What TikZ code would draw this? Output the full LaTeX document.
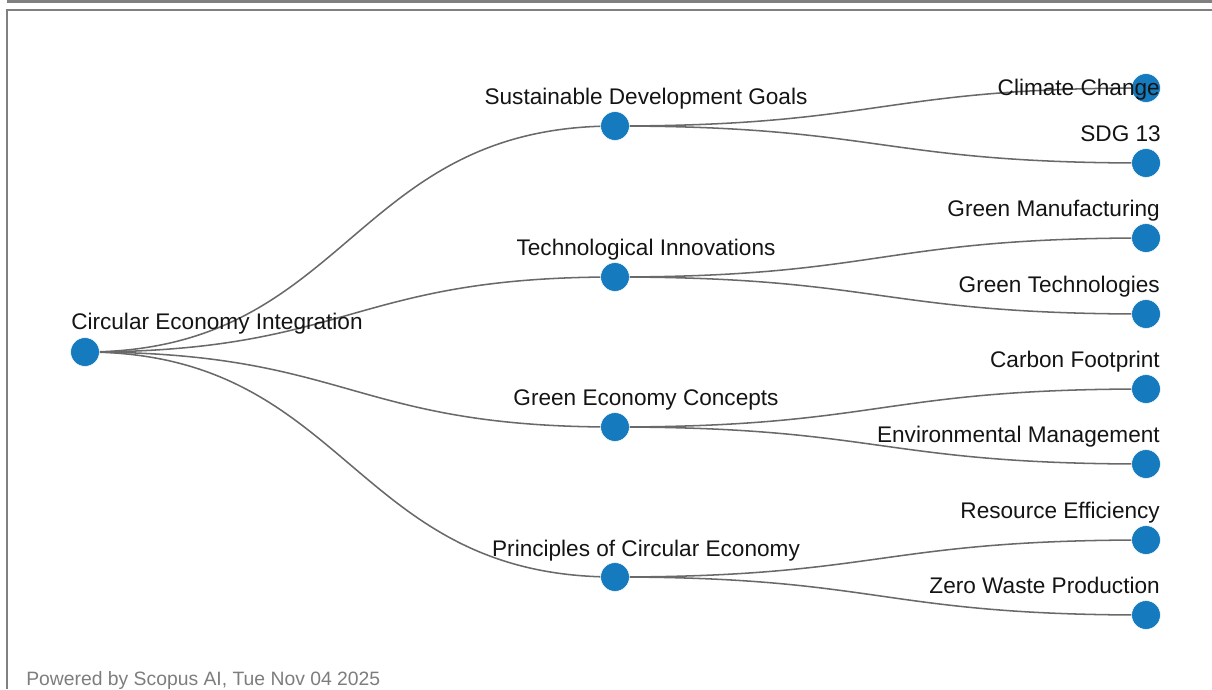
\documentclass[tikz,border=0pt]{standalone}
\usepackage{fontspec}
\setmainfont{Liberation Sans}
\usetikzlibrary{calc,backgrounds}

\definecolor{dotblue}{RGB}{22,123,190}
\definecolor{linkgray}{RGB}{105,105,105}
\definecolor{framegray}{RGB}{128,128,128}
\definecolor{footgray}{RGB}{125,125,125}
\definecolor{labelink}{RGB}{20,20,20}

\tikzset{
  dot/.style={circle, fill=dotblue, draw=white, line width=0.4pt, minimum size=21.6pt, inner sep=0pt},
  link/.style={draw=linkgray, line width=1.15pt},
  lbl/.style={font=\fontsize{16.95}{20}\selectfont, text=labelink, inner sep=0pt},
  frameline/.style={fill=framegray, draw=none},
}

% horizontal tree link: cubic curve with both controls at the mid abscissa
\newcommand\treelink[2]{%
  \draw[link] let \p1=(#1.center), \p2=(#2.center) in
    (\p1) .. controls ({(\x1+\x2)/2},\y1) and ({(\x1+\x2)/2},\y2) .. (\p2);}

\begin{document}
\begin{tikzpicture}[x=0.75pt, y=-0.75pt]
  \useasboundingbox (0,0) rectangle (1212,689);

  % panel frame
  \fill[frameline] (7,0) rectangle (1212,3.3);
  \fill[frameline] (6,9) rectangle (1212,11.2);
  \fill[frameline] (6,9) rectangle (8.2,689);

  % nodes
  \node[dot] (root) at (85,352) {};

  \node[dot] (sdg)  at (615,126) {};
  \node[dot] (tech) at (615,277) {};
  \node[dot] (gec)  at (615,427) {};
  \node[dot] (pce)  at (615,577) {};

  \node[dot] (cc)   at (1146,88)  {};
  \node[dot] (sdgt) at (1146,163) {};
  \node[dot] (gm)   at (1146,238) {};
  \node[dot] (gt)   at (1146,314) {};
  \node[dot] (cf)   at (1146,389) {};
  \node[dot] (em)   at (1146,464) {};
  \node[dot] (re)   at (1146,540) {};
  \node[dot] (zwp)  at (1146,615) {};

  % links, drawn beneath the dots
  \begin{pgfonlayer}{background}
    \treelink{root}{sdg}
    \treelink{root}{tech}
    \treelink{root}{gec}
    \treelink{root}{pce}
    \treelink{sdg}{cc}
    \treelink{sdg}{sdgt}
    \treelink{tech}{gm}
    \treelink{tech}{gt}
    \treelink{gec}{cf}
    \treelink{gec}{em}
    \treelink{pce}{re}
    \treelink{pce}{zwp}
  \end{pgfonlayer}

  % labels
  \node[lbl, anchor=base west] (lroot) at (71,329) {Circular Economy Integration};

  \node[lbl, anchor=base] (lsdg)  at (646,104) {Sustainable Development Goals};
  \node[lbl, anchor=base] (ltech) at (646,255) {Technological Innovations};
  \node[lbl, anchor=base] (lgec)  at (646,405) {Green Economy Concepts};
  \node[lbl, anchor=base] (lpce)  at (646,556) {Principles of Circular Economy};

  \node[lbl, anchor=base east] (lcc)   at (1160,95)  {Climate Change};
  \node[lbl, anchor=base east] (lsdgt) at (1161,141) {SDG 13};
  \node[lbl, anchor=base east] (lgm)   at (1160,216) {Green Manufacturing};
  \node[lbl, anchor=base east] (lgt)   at (1160,292) {Green Technologies};
  \node[lbl, anchor=base east] (lcf)   at (1160,367) {Carbon Footprint};
  \node[lbl, anchor=base east] (lem)   at (1160,442) {Environmental Management};
  \node[lbl, anchor=base east] (lre)   at (1160,518) {Resource Efficiency};
  \node[lbl, anchor=base east] (lzwp)  at (1160,593) {Zero Waste Production};

  % footer
  \node[font=\fontsize{14.5}{17}\selectfont, text=footgray, inner sep=0pt, anchor=base west]
    (foot) at (26,685) {Powered by Scopus AI, Tue Nov 04 2025};
\end{tikzpicture}
\end{document}
